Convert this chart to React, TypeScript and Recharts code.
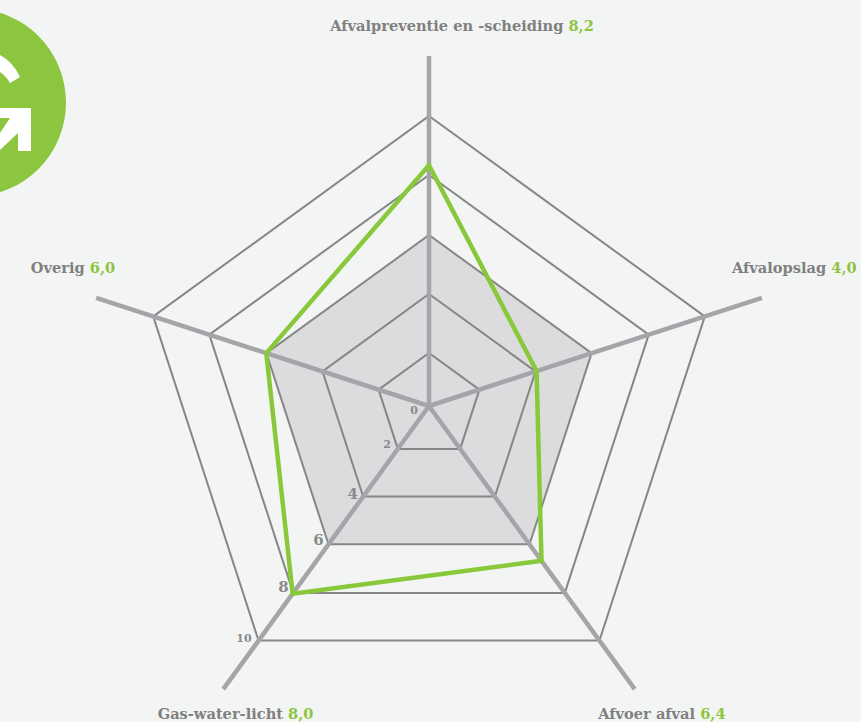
import React from 'react'
import {
    PolarAngleAxis,
    PolarGrid,
    PolarRadiusAxis,
    Radar,
    RadarChart
} from 'recharts'

const categories = [
    'Afvalpreventie en -scheiding',
    'Afvalopslag',
    'Afvoer afval',
    'Gas-water-licht',
    'Overig'
]
const scoreLabels = ['8,2', '4,0', '6,4', '8,0', '6,0']
const plottedScores = [8.3, 3.9, 6.6, 8.0, 5.9]
const radiusTicks = [0, 2, 4, 6, 8, 10]
const radiusMax = 12.07

const data = categories.map((name, i) => ({
    name,
    score: plottedScores[i]
}))

const GREEN = '#8cc63f'
const FONT = '"DejaVu Serif", serif'
const OUTER_RADIUS = 350
// the rings in the picture are not evenly spaced from the centre
const RING_RADII = [53, 112, 171, 231, 290]
const BAND_RADIUS = RING_RADII[2]

// label offset from the spoke end, the labels sit well off the axis
const labelOffsets = [
    { dx: 33, dy: -17, anchor: 'middle' },
    { dx: -37.5, dy: -22, anchor: 'start' },
    { dx: 22.5, dy: 23, anchor: 'middle' },
    { dx: 17, dy: 23, anchor: 'middle' },
    { dx: -15.5, dy: -22, anchor: 'middle' }
]

const tickOffsets = [
    { dx: -11, dy: 8, size: 11 },
    { dx: -4, dy: -5, size: 11 },
    { dx: -3, dy: -1, size: 15 },
    { dx: -3, dy: -2, size: 15 },
    { dx: -4, dy: -2, size: 15 },
    { dx: -7, dy: 1, size: 11 }
]

const AngleTick = ({ x, y, index }: any) => {
    const offset = labelOffsets[index]
    return (
        <text
            x={x + offset.dx}
            y={y + offset.dy}
            textAnchor={offset.anchor}
            fontFamily={FONT}
            fontWeight={700}
            fontSize={14.6}
            fill={'#808080'}
        >
            {categories[index]} <tspan fill={GREEN}>{scoreLabels[index]}</tspan>
        </text>
    )
}

const RadiusTick = ({ x, y, payload, index }: any) => {
    const offset = tickOffsets[index]
    return (
        <text
            x={x + offset.dx}
            y={y + offset.dy}
            textAnchor={'end'}
            fontFamily={FONT}
            fontWeight={700}
            fontSize={offset.size}
            fill={'#8a8a8a'}
        >
            {payload.value}
        </text>
    )
}

const Logo = () => (
    <svg
        width={100}
        height={210}
        style={{ position: 'absolute', left: 0, top: 0 }}
    >
        <circle cx={-28} cy={102.5} r={94} fill={GREEN} />
        <path d={'M0 55 Q13 62 20 77 L10 83 Q6 76 0 72 Z'} fill={'#fff'} />
        <path
            d={'M0 108 L31 108 L31 151 L18 151 L18 133 L0 150 L0 133 L10 118 L0 118 Z'}
            fill={'#fff'}
        />
    </svg>
)

const App = () => (
    <div
        style={{
            position: 'absolute',
            left: 0,
            top: 0,
            width: 861,
            height: 722,
            overflow: 'hidden',
            background: '#f3f5f4'
        }}
    >
        <Logo />
        <RadarChart
            width={861}
            height={722}
            data={data}
            cx={429}
            cy={406}
            outerRadius={OUTER_RADIUS}
            startAngle={90}
            endAngle={-270}
            margin={{ top: 0, right: 0, bottom: 0, left: 0 }}
        >
            <PolarGrid
                gridType={'polygon'}
                radialLines={false}
                polarRadius={[BAND_RADIUS]}
                fill={'#dcdcde'}
                fillOpacity={1}
                stroke={'none'}
            />
            <PolarGrid
                gridType={'polygon'}
                radialLines={false}
                polarRadius={RING_RADII}
                stroke={'#868686'}
                strokeWidth={2}
            />
            <PolarGrid
                gridType={'polygon'}
                polarRadius={[]}
                stroke={'#a5a4a8'}
                strokeWidth={4.5}
            />
            <PolarAngleAxis
                dataKey={'name'}
                axisLine={false}
                tickLine={false}
                tick={<AngleTick />}
            />
            <PolarRadiusAxis
                angle={-126}
                domain={[0, radiusMax]}
                ticks={radiusTicks}
                axisLine={false}
                tickLine={false}
                tick={<RadiusTick />}
            />
            <Radar
                dataKey={'score'}
                fill={'none'}
                stroke={'#88c83a'}
                strokeWidth={4.5}
                dot={false}
                isAnimationActive={false}
            />
        </RadarChart>
    </div>
)

export default App
